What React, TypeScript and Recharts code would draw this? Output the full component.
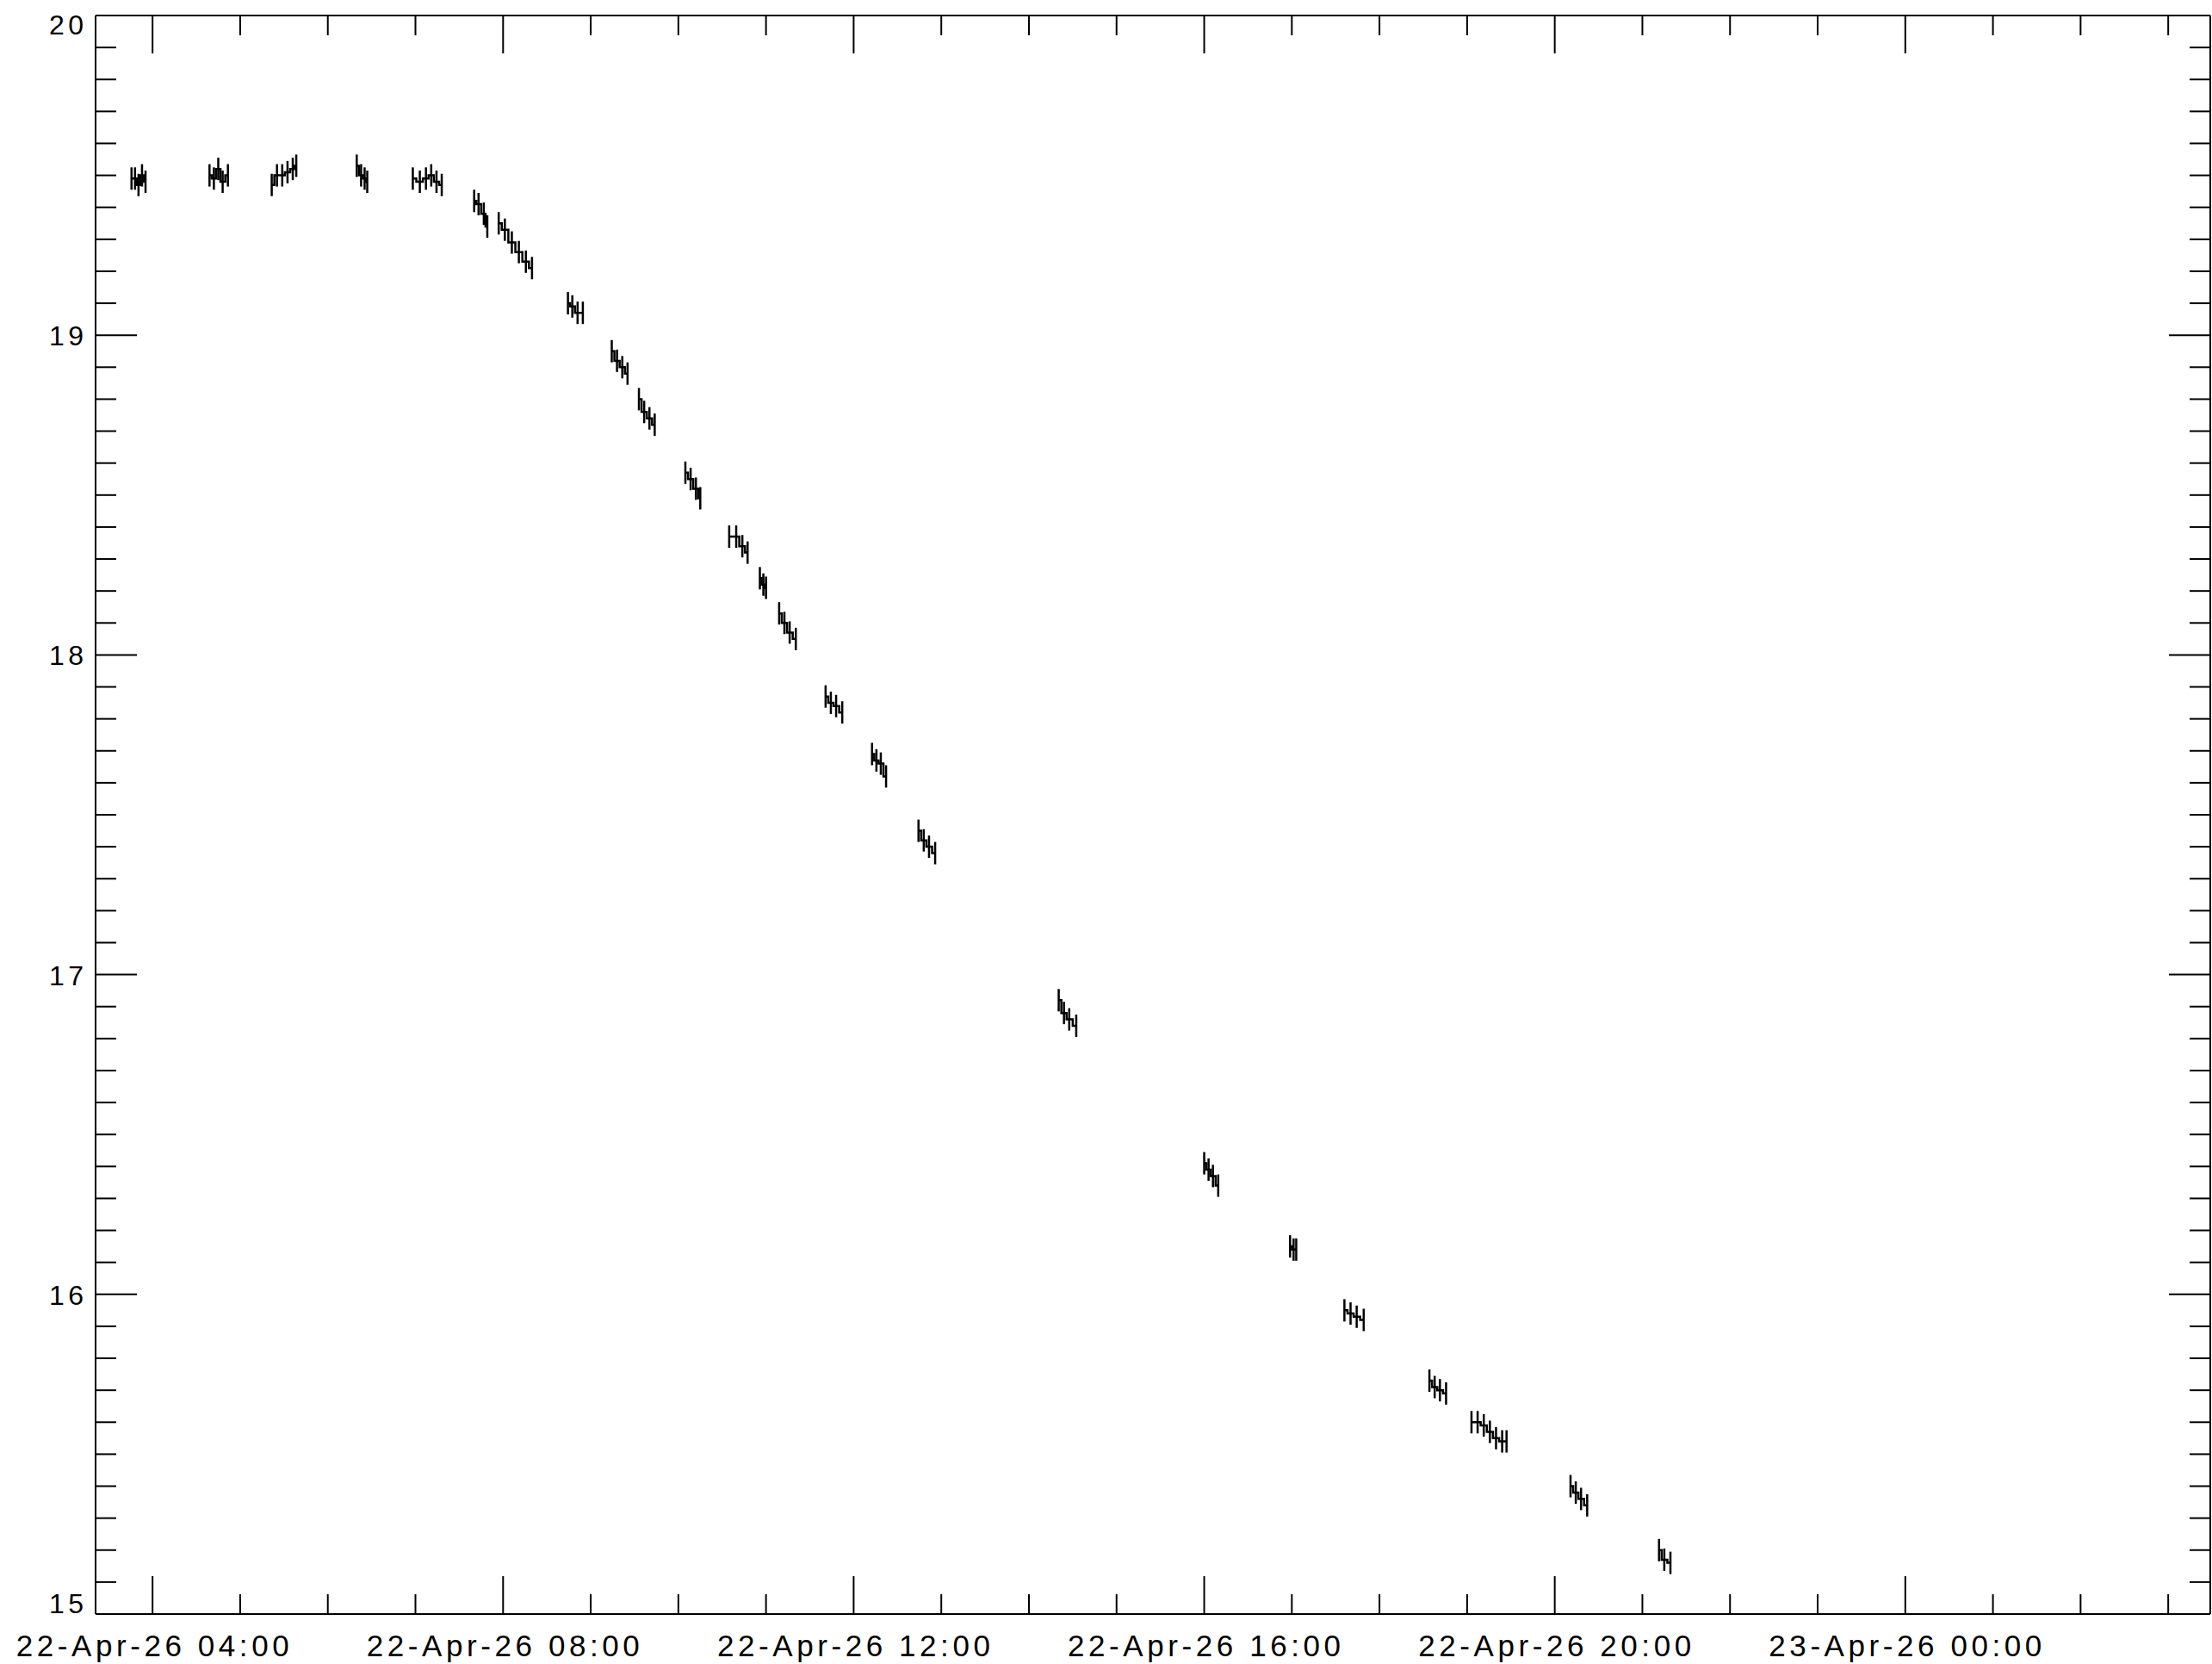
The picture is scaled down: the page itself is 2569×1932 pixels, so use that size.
import React from 'react';
import { ComposedChart, Line, XAxis, YAxis, ErrorBar } from 'recharts';

// Observation clusters: time in hours since 22-Apr-26 00:00, magnitude
const c01t = [3.76, 3.80, 3.84, 3.88, 3.92];
const c01m = [19.49, 19.49, 19.47, 19.50, 19.48];
const c02t = [4.65, 4.70, 4.75, 4.80, 4.86];
const c02m = [19.50, 19.49, 19.52, 19.48, 19.50];
const c03t = [5.36, 5.42, 5.48, 5.54, 5.60, 5.64];
const c03m = [19.47, 19.50, 19.50, 19.51, 19.52, 19.53];
const c04t = [6.33, 6.38, 6.42, 6.45];
const c04m = [19.53, 19.50, 19.49, 19.48];
const c05t = [6.97, 7.05, 7.12, 7.18, 7.24, 7.30];
const c05m = [19.49, 19.48, 19.49, 19.50, 19.48, 19.47];
const c06t = [7.67, 7.72, 7.78, 7.82];
const c06m = [19.42, 19.41, 19.38, 19.34];
const c07t = [7.95, 8.02, 8.10, 8.18, 8.26, 8.33];
const c07m = [19.35, 19.33, 19.29, 19.26, 19.23, 19.21];
const c08t = [8.74, 8.79, 8.85, 8.91];
const c08m = [19.10, 19.09, 19.07, 19.07];
const c09t = [9.24, 9.30, 9.36, 9.42];
const c09m = [18.95, 18.92, 18.90, 18.88];
const c10t = [9.55, 9.61, 9.67, 9.73];
const c10m = [18.80, 18.76, 18.74, 18.72];
const c11t = [10.08, 10.14, 10.20, 10.25];
const c11m = [18.57, 18.55, 18.52, 18.49];
const c12t = [10.58, 10.66, 10.73, 10.79];
const c12m = [18.37, 18.37, 18.34, 18.32];
const c13t = [10.93, 10.97, 11.00];
const c13m = [18.24, 18.22, 18.21];
const c14t = [11.15, 11.21, 11.27, 11.34];
const c14m = [18.13, 18.10, 18.07, 18.05];
const c15t = [11.68, 11.74, 11.80, 11.87];
const c15m = [17.87, 17.85, 17.84, 17.82];
const c16t = [12.21, 12.26, 12.31, 12.37];
const c16m = [17.69, 17.67, 17.66, 17.62];
const c17t = [12.74, 12.80, 12.86, 12.93];
const c17m = [17.45, 17.42, 17.40, 17.38];
const c18t = [14.34, 14.40, 14.46, 14.54];
const c18m = [16.92, 16.88, 16.86, 16.84];
const c19t = [16.00, 16.05, 16.10, 16.16];
const c19m = [16.41, 16.39, 16.37, 16.34];
const c20t = [16.98, 17.02, 17.05];
const c20m = [16.15, 16.14, 16.14];
const c21t = [17.60, 17.67, 17.74, 17.82];
const c21m = [15.95, 15.94, 15.93, 15.92];
const c22t = [18.57, 18.63, 18.69, 18.76];
const c22m = [15.73, 15.71, 15.70, 15.69];
const c23t = [19.05, 19.12, 19.19, 19.26, 19.33, 19.40, 19.45];
const c23m = [15.60, 15.60, 15.59, 15.57, 15.55, 15.54, 15.54];
const c24t = [20.18, 20.24, 20.30, 20.37];
const c24m = [15.40, 15.38, 15.36, 15.34];
const c25t = [21.19, 21.25, 21.32];
const c25m = [15.20, 15.17, 15.16];

const errSize = 0.035;

const clusterTimes = [c01t, c02t, c03t, c04t, c05t, c06t, c07t, c08t, c09t, c10t, c11t, c12t, c13t,
  c14t, c15t, c16t, c17t, c18t, c19t, c20t, c21t, c22t, c23t, c24t, c25t];
const clusterMags = [c01m, c02m, c03m, c04m, c05m, c06m, c07m, c08m, c09m, c10m, c11m, c12m, c13m,
  c14m, c15m, c16m, c17m, c18m, c19m, c20m, c21m, c22m, c23m, c24m, c25m];

// Axis ticks
const hourTicks = [4, 5, 6, 7, 8, 9, 10, 11, 12, 13, 14, 15, 16, 17, 18, 19, 20, 21, 22, 23, 24, 25, 26, 27];
const hourLabels: Record<number, string> = {
  4: '22-Apr-26 04:00',
  8: '22-Apr-26 08:00',
  12: '22-Apr-26 12:00',
  16: '22-Apr-26 16:00',
  20: '22-Apr-26 20:00',
  24: '23-Apr-26 00:00',
};
const magTicks = Array.from({ length: 51 }, (_, i) => Math.round(150 + i) / 10);
const magLabels = [15, 16, 17, 18, 19, 20];

const X_DOMAIN: [number, number] = [3.35, 27.48];
const Y_DOMAIN: [number, number] = [15, 20];

const FONT = '"Liberation Sans", Arial, sans-serif';

const isMajorHour = (v: number) => Math.abs(v % 4) < 1e-6;
const isMajorMag = (v: number) => Math.abs(v - Math.round(v)) < 1e-6;

const BottomTick = (props: any) => {
  const { x, y, payload } = props;
  const v = payload.value;
  const major = isMajorHour(v);
  const len = major ? 44 : 23;
  return (
    <g>
      <line x1={x} y1={y} x2={x} y2={y - len} stroke="#000" strokeWidth={2} />
      {major && hourLabels[v] ? (
        <text x={x} y={y + 49} textAnchor="middle" fontFamily={FONT} fontSize={35}
          textLength={317} lengthAdjust="spacing" fill="#000">
          {hourLabels[v]}
        </text>
      ) : null}
    </g>
  );
};

const TopTick = (props: any) => {
  const { x, y, payload } = props;
  const len = isMajorHour(payload.value) ? 44 : 23;
  return <line x1={x} y1={y} x2={x} y2={y + len} stroke="#000" strokeWidth={2} />;
};

const LeftTick = (props: any) => {
  const { x, y, payload } = props;
  const v = payload.value;
  const major = isMajorMag(v);
  const len = major ? 48 : 24;
  let dy = 1;
  if (Math.abs(v - 20) < 1e-6) dy = 11;
  if (Math.abs(v - 15) < 1e-6) dy = -12;
  return (
    <g>
      <line x1={x} y1={y} x2={x + len} y2={y} stroke="#000" strokeWidth={2} />
      {major && magLabels.includes(Math.round(v)) ? (
        <text x={x - 14} y={y + dy} textAnchor="end" dominantBaseline="central" fontFamily={FONT}
          fontSize={32} textLength={40} lengthAdjust="spacing" fill="#000">
          {String(Math.round(v))}
        </text>
      ) : null}
    </g>
  );
};

const RightTick = (props: any) => {
  const { x, y, payload } = props;
  const len = isMajorMag(payload.value) ? 48 : 24;
  return <line x1={x} y1={y} x2={x - len} y2={y} stroke="#000" strokeWidth={2} />;
};

const frameAnchor = [{ t: 10, mag: 17 }];

export default function App() {
  const clusters = clusterTimes.map((ts, ci) =>
    ts.map((t, i) => ({ t, mag: clusterMags[ci][i], err: errSize }))
  );
  return (
    <div style={{ position: 'absolute', left: 0, top: 0, width: 2569, height: 1932, background: '#fff' }}>
      <ComposedChart width={2569} height={1932} margin={{ top: 17, right: 1, bottom: 0, left: 0 }}>
        <XAxis xAxisId="b" type="number" dataKey="t" domain={X_DOMAIN} allowDataOverflow ticks={hourTicks}
          interval={0} tick={<BottomTick />} tickLine={false} tickSize={0} tickMargin={0} height={58}
          axisLine={{ stroke: '#000', strokeWidth: 2 }} orientation="bottom" />
        <XAxis xAxisId="top" type="number" dataKey="t" domain={X_DOMAIN} allowDataOverflow ticks={hourTicks}
          interval={0} tick={<TopTick />} tickLine={false} tickSize={0} tickMargin={0} height={1}
          axisLine={{ stroke: '#000', strokeWidth: 2 }} orientation="top" />
        <YAxis yAxisId="l" type="number" domain={Y_DOMAIN} allowDataOverflow ticks={magTicks} interval={0}
          tick={<LeftTick />} tickLine={false} tickSize={0} tickMargin={0} width={111}
          axisLine={{ stroke: '#000', strokeWidth: 2 }} orientation="left" />
        <YAxis yAxisId="r" type="number" domain={Y_DOMAIN} allowDataOverflow ticks={magTicks} interval={0}
          tick={<RightTick />} tickLine={false} tickSize={0} tickMargin={0} width={1}
          axisLine={{ stroke: '#000', strokeWidth: 2 }} orientation="right" />
        <Line xAxisId="top" yAxisId="r" data={frameAnchor} dataKey="mag" stroke="none" dot={false}
          isAnimationActive={false} legendType="none" />
        {clusters.map((d, i) => (
          <Line key={i} xAxisId="b" yAxisId="l" data={d} dataKey="mag" type="step" stroke="#000"
            strokeWidth={2.5} dot={false} isAnimationActive={false} legendType="none">
            <ErrorBar dataKey="err" width={0} stroke="#000" strokeWidth={2.5} direction="y"
              isAnimationActive={false} />
          </Line>
        ))}
      </ComposedChart>
    </div>
  );
}
